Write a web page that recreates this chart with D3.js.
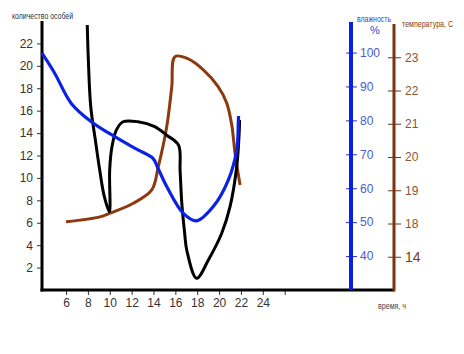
<!DOCTYPE html>
<html><head><meta charset="utf-8">
<script src="https://cdn.jsdelivr.net/npm/d3@7"></script>
<style>body{margin:0;background:#fff}svg{display:block}text{font-family:"Liberation Sans",Arial,sans-serif}</style>
</head><body><svg id="c" width="464" height="354"></svg>
<script>
// Data
const countHours = [7.94,8.04,8.26,8.68,9.08,9.47,9.96,9.99,10.2,10.6,11.21,12.58,14.11,15.17,16.29,16.43,16.59,16.84,17.04,17.95,19.02,20.24,21.0,21.61,21.85,21.87];
const countValues = [23.64,20.52,16.35,13.38,10.7,8.47,6.98,10.7,12.78,14.27,15.01,15.01,14.57,13.83,12.93,10.7,7.73,5.17,3.57,1.04,2.68,5.06,7.43,11.0,14.27,15.17];
const humHours = [3.8,4.96,6.48,8.31,10.45,12.58,13.95,14.41,15.21,16.73,17.95,19.47,20.84,21.61,21.76,21.78];
const humValues = [99.8,93.9,85.0,79.6,75.2,71.3,68.8,65.9,60.5,52.6,50.4,54.6,62.4,71.3,79.6,81.3];
const tempHours = [6.0,9.11,10.02,12.15,13.84,14.44,15.21,15.67,15.97,17.18,18.56,19.93,20.7,21.16,21.46,21.92];
const tempValues = [18.05,18.2,18.31,18.61,19.01,19.71,20.91,22.11,23.02,22.95,22.62,22.11,21.62,20.96,20.11,19.16];
const xTicks = [6,8,10,12,14,16,18,20,22,24,26];
const xTickLabels = ["6","8","10","12","14","16","18","20","22","24",""];
const countTicks = [2,4,6,8,10,12,14,16,18,20,22];
const humTicks = [40,50,60,70,80,90,100];
const tempTicks = [17,18,19,20,21,22,23];
const tempTickLabels = ["14","18","19","20","21","22","23"];

const svg = d3.select("#c");
const x = d3.scaleLinear().domain([3.8,36]).range([42,394]);
const yC = d3.scaleLinear().domain([0,24]).range([290,21]);
const yH = d3.scaleLinear().domain([30,109]).range([290,22]);
const yT = d3.scaleLinear().domain([16,24]).range([290,24]);

// left axis
const gL = svg.append("g").attr("transform","translate(42,0)")
  .call(d3.axisLeft(yC).tickValues(countTicks).tickSize(5).tickPadding(4).tickFormat(d3.format("d")));
gL.select(".domain").remove();
gL.selectAll(".tick line").attr("stroke","#333");
gL.selectAll(".tick text").attr("fill","#333").style("font-size","12px");
svg.append("line").attr("x1",42).attr("x2",42).attr("y1",yC(24)).attr("y2",291.5).attr("stroke","#000").attr("stroke-width",3);

// bottom axis
const gB = svg.append("g").attr("transform","translate(0,290)")
  .call(d3.axisBottom(x).tickValues(xTicks).tickSize(5).tickPadding(3).tickFormat((d,i)=>xTickLabels[i]));
gB.select(".domain").remove();
gB.selectAll(".tick line").attr("stroke","#333");
gB.selectAll(".tick text").attr("fill","#333").style("font-size","12px");
svg.append("line").attr("x1",40.5).attr("x2",x(36)).attr("y1",290).attr("y2",290).attr("stroke","#000").attr("stroke-width",3);

// humidity axis
const hx = 351;
const gH = svg.append("g").attr("transform",`translate(${hx},0)`)
  .call(d3.axisRight(yH).tickValues(humTicks).tickSize(6).tickPadding(3).tickFormat(d3.format("d")));
gH.select(".domain").remove();
gH.selectAll(".tick line").attr("x1",-5).attr("stroke","#2233cc");
gH.selectAll(".tick text").attr("fill","#4a5ad0").style("font-size","12px");
svg.append("line").attr("x1",hx).attr("x2",hx).attr("y1",yH(109)).attr("y2",290).attr("stroke","#0a1ee8").attr("stroke-width",4);

// temperature axis
const tx = 394;
const gT = svg.append("g").attr("transform",`translate(${tx},0)`)
  .call(d3.axisRight(yT).tickValues(tempTicks).tickSize(7).tickPadding(4).tickFormat((d,i)=>tempTickLabels[i]));
gT.select(".domain").remove();
gT.selectAll(".tick line").attr("x1",-6).attr("stroke","#6b3415");
gT.selectAll(".tick text").attr("fill","#8a5533").style("font-size","12px")
  .filter(d=>d===17).style("font-size","14px").attr("fill","#7a3a12");
svg.append("line").attr("x1",tx).attr("x2",tx).attr("y1",yT(24)).attr("y2",291.5).attr("stroke","#7a3510").attr("stroke-width",3);

// titles
const title = (tx_, ty_, s, col, fs, len) => {
  const t = svg.append("text").attr("x",tx_).attr("y",ty_).text(s).attr("fill",col).style("font-size",fs+"px");
  if (len) t.attr("textLength",len).attr("lengthAdjust","spacingAndGlyphs");
};
title(12,19,"количество особей","#333",9,61);
title(357,22,"влажность","#3344cc",9,34);
title(370,34,"%","#3344cc",11,0);
title(402,27,"температура, С","#7a4020",9,51);
title(378,309,"время, ч","#444",9,28);

// lines
const mk = (ys, hs, vs) => d3.line().x((d,i)=>x(hs[i])).y((d,i)=>ys(vs[i])).curve(d3.curveCatmullRom.alpha(0.5));
svg.append("path").attr("d",mk(yT,tempHours,tempValues)(tempValues)).attr("fill","none").attr("stroke","#8b3a0f").attr("stroke-width",3).attr("stroke-linejoin","round");
svg.append("path").attr("d",mk(yC,countHours,countValues)(countValues)).attr("fill","none").attr("stroke","#000").attr("stroke-width",3).attr("stroke-linejoin","round");
svg.append("path").attr("d",mk(yH,humHours,humValues)(humValues)).attr("fill","none").attr("stroke","#0b22e6").attr("stroke-width",3.2).attr("stroke-linejoin","round");
</script></body></html>
